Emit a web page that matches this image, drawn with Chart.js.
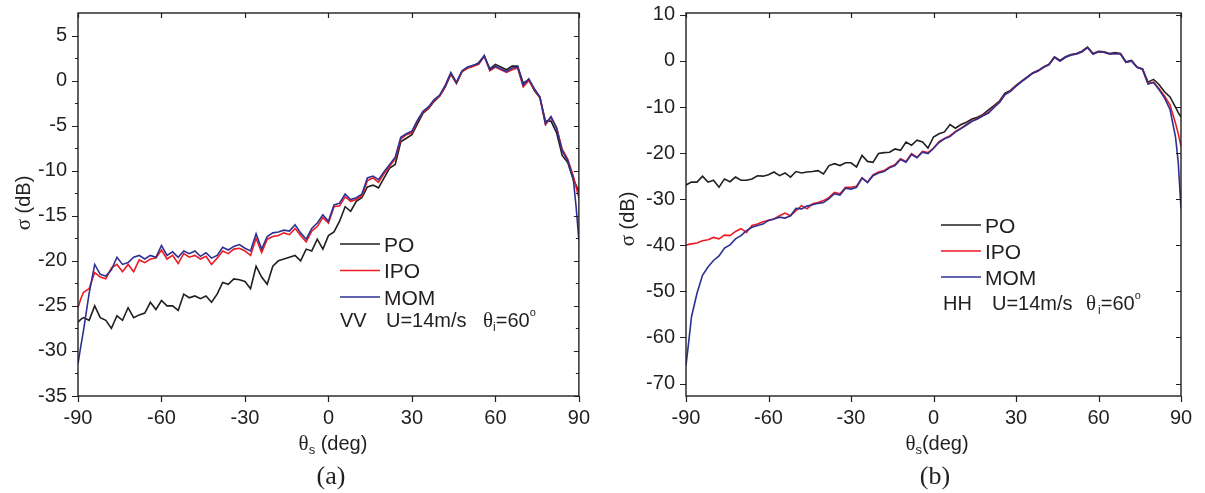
<!DOCTYPE html>
<html>
<head>
<meta charset="utf-8">
<script src="https://cdn.jsdelivr.net/npm/chart.js@4.4.1/dist/chart.umd.min.js"></script>
<style>
  body { margin: 0; background: #fff; width: 1205px; height: 493px; overflow: hidden; position: relative; }
  .panel { position: absolute; top: 0; height: 493px; }
  #boxVV { left: 0; width: 600px; }
  #boxHH { left: 600px; width: 605px; }
</style>
</head>
<body>
<div class="panel" id="boxVV"><canvas id="chartVV"></canvas></div>
<div class="panel" id="boxHH"><canvas id="chartHH"></canvas></div>
<script>
// scattering angle theta_s (deg)
const theta = [
  -90, -89, -88, -86, -84, -82, -80, -78, -76, -74,
  -72, -70, -68, -66, -64, -62, -60, -58, -56, -54,
  -52, -50, -48, -46, -44, -42, -40, -38, -36, -34,
  -32, -30, -28, -26, -24, -22, -20, -18, -16, -14,
  -12, -10, -8, -6, -4, -2, 0, 2, 4, 6,
  8, 10, 12, 14, 16, 18, 20, 22, 24, 26,
  28, 30, 32, 34, 36, 38, 40, 42, 44, 46,
  48, 50, 52, 54, 56, 58, 60, 62, 64, 66,
  68, 70, 72, 74, 76, 78, 80, 82, 84, 86,
  88, 89, 90
];

// (a) VV polarisation
const poVV = [
  -26.8, -26.5, -26.3, -26.6, -25.0, -26.3, -26.6, -27.5, -26.1, -26.6,
  -25.2, -26.3, -26.0, -25.8, -24.6, -25.4, -24.4, -25.0, -25.0, -25.5,
  -23.7, -24.1, -23.9, -24.2, -23.9, -24.6, -23.7, -22.4, -22.6, -22.0,
  -22.1, -22.3, -23.1, -20.6, -21.8, -22.6, -20.6, -20.0, -19.8, -19.6,
  -19.4, -20.0, -18.7, -18.9, -17.6, -18.7, -17.2, -16.8, -15.6, -14.0,
  -14.5, -13.4, -13.0, -11.8, -11.6, -11.9, -10.8, -9.7, -9.3, -6.8,
  -6.4, -6.0, -4.8, -3.6, -3.1, -2.3, -1.7, -0.7, 0.7, -0.3,
  1.0, 1.4, 1.6, 2.0, 2.7, 1.3, 1.8, 1.5, 1.2, 1.6,
  1.6, -0.3, 0.1, -1.1, -1.9, -4.5, -4.5, -5.8, -8.3, -9.1,
  -11.0, -11.6, -12.3
];
const ipoVV = [
  -25.2, -24.2, -23.5, -23.1, -21.3, -21.8, -22.0, -20.8, -20.4, -21.2,
  -20.4, -21.2, -19.9, -20.2, -19.8, -19.7, -18.8, -19.8, -19.4, -20.3,
  -19.2, -19.6, -19.4, -19.8, -19.5, -20.4, -19.7, -18.9, -19.2, -18.7,
  -18.6, -18.9, -19.4, -17.5, -19.1, -17.6, -17.3, -17.2, -16.9, -17.1,
  -16.4, -17.2, -17.9, -16.7, -16.2, -15.2, -15.8, -14.0, -13.9, -12.9,
  -13.4, -13.2, -12.8, -11.1, -10.8, -11.3, -10.3, -9.5, -8.7, -6.5,
  -6.0, -5.8, -4.5, -3.5, -3.0, -2.2, -1.7, -0.6, 0.8, -0.3,
  1.0, 1.4, 1.6, 1.8, 2.7, 1.1, 1.5, 1.2, 0.9, 1.2,
  1.4, -0.7, 0.0, -1.0, -1.9, -4.9, -4.1, -5.2, -7.6, -8.7,
  -10.6, -11.8, -13.0
];
const momVV = [
  -31.4, -29.5, -27.7, -23.6, -20.4, -21.5, -21.7, -21.0, -19.6, -20.4,
  -20.2, -19.6, -19.4, -19.8, -19.4, -19.6, -18.3, -19.4, -19.0, -19.6,
  -18.9, -19.2, -18.9, -19.5, -19.1, -19.7, -19.4, -18.5, -18.8, -18.4,
  -18.2, -18.6, -18.9, -17.0, -18.7, -17.3, -16.9, -16.8, -16.6, -16.7,
  -16.0, -16.9, -17.6, -16.4, -15.8, -14.9, -15.6, -13.8, -13.6, -12.6,
  -13.2, -13.0, -12.6, -10.8, -10.6, -11.0, -10.1, -9.3, -8.5, -6.3,
  -5.9, -5.6, -4.4, -3.4, -2.9, -2.1, -1.6, -0.5, 0.9, -0.2,
  1.1, 1.5, 1.7, 1.9, 2.8, 1.2, 1.6, 1.3, 1.0, 1.4,
  1.5, -0.5, 0.2, -0.9, -1.8, -4.8, -4.0, -5.3, -7.8, -8.9,
  -10.9, -14.0, -17.7
];

// (b) HH polarisation
const poHH = [
  -26.9, -26.6, -26.3, -26.3, -25.0, -26.3, -25.9, -27.4, -25.6, -26.2,
  -25.2, -25.9, -25.9, -25.6, -24.9, -25.0, -24.7, -24.1, -24.9, -24.3,
  -25.2, -24.0, -24.3, -24.1, -24.0, -23.8, -24.5, -22.7, -22.3, -22.7,
  -22.1, -22.1, -23.0, -20.5, -21.8, -22.0, -20.1, -19.9, -19.8, -19.1,
  -19.4, -17.6, -18.3, -17.2, -17.6, -18.9, -16.5, -15.8, -15.4, -13.8,
  -14.6, -13.8, -13.3, -12.6, -12.2, -11.6, -10.6, -9.7, -8.7, -7.0,
  -6.4, -5.3, -4.4, -3.5, -2.6, -2.1, -1.3, -0.7, 0.9, 0.1,
  0.9, 1.4, 1.6, 2.1, 3.0, 1.6, 2.1, 2.0, 1.6, 1.8,
  1.6, -0.2, 0.1, -1.3, -1.7, -4.6, -4.0, -5.1, -6.7, -7.8,
  -10.0, -11.2, -12.2
];
const ipoHH = [
  -40.0, -39.8, -39.7, -39.5, -39.0, -38.8, -38.3, -38.6, -37.8, -37.9,
  -37.0, -36.4, -37.2, -35.7, -35.4, -34.9, -34.6, -34.3, -33.6, -33.0,
  -33.6, -32.5, -31.4, -32.1, -31.0, -30.7, -30.3, -29.6, -28.5, -28.8,
  -27.4, -27.4, -27.2, -25.4, -26.3, -24.7, -24.1, -23.8, -23.0, -22.5,
  -21.2, -21.8, -20.1, -20.9, -19.6, -19.9, -18.9, -17.5, -16.8, -16.2,
  -15.3, -14.6, -13.8, -13.0, -12.5, -11.8, -11.2, -10.0, -8.9, -7.3,
  -6.5, -5.4, -4.5, -3.6, -2.7, -2.2, -1.4, -0.8, 0.8, 0.0,
  0.8, 1.3, 1.5, 2.0, 2.9, 1.5, 2.0, 1.9, 1.5, 1.6,
  1.5, -0.3, 0.0, -1.4, -1.8, -4.9, -4.6, -6.0, -7.6, -9.5,
  -13.5, -15.8, -18.5
];
const momHH = [
  -66.0, -60.9, -55.5, -50.4, -46.5, -44.7, -43.3, -42.3, -40.6, -39.9,
  -38.6, -37.9, -36.8, -36.1, -35.7, -35.4, -34.6, -34.3, -33.9, -34.1,
  -33.6, -32.0, -32.1, -31.5, -31.2, -30.9, -30.7, -29.9, -28.8, -29.1,
  -27.6, -27.8, -27.4, -25.4, -26.4, -24.9, -24.3, -24.0, -23.2, -22.7,
  -21.4, -22.0, -20.3, -21.0, -19.8, -20.1, -19.0, -17.7, -16.9, -16.4,
  -15.4, -14.7, -13.9, -13.1, -12.6, -11.9, -11.3, -10.1, -9.0, -7.3,
  -6.6, -5.5, -4.5, -3.6, -2.7, -2.2, -1.4, -0.8, 0.8, 0.0,
  0.8, 1.3, 1.5, 2.0, 2.9, 1.5, 2.0, 1.9, 1.5, 1.6,
  1.5, -0.3, 0.0, -1.4, -1.8, -5.0, -4.7, -6.2, -8.0, -10.5,
  -16.5, -22.0, -32.0
];

// tick values
const xTicks = [-90, -60, -30, 0, 30, 60, 90];
const yTicksVV = [-35, -30, -25, -20, -15, -10, -5, 0, 5];
const yMinorVV = [-32.5, -27.5, -22.5, -17.5, -12.5, -7.5, -2.5, 2.5];
const yTicksHH = [-70, -60, -50, -40, -30, -20, -10, 0, 10];
const yMinorHH = [];

const INK = "#231f20";
const SANS = '"Liberation Sans", Arial, sans-serif';
const SERIF = '"Liberation Serif", "Times New Roman", serif';

// draws text pieces one after another; a piece with x starts at that x
function drawRuns(ctx, runs, x, y, align) {
  let w = 0;
  runs.forEach((r) => {
    ctx.font = `${r.size}px ${r.serif ? SERIF : SANS}`;
    w += ctx.measureText(r.t).width;
  });
  let cx = align === "center" ? x - w / 2 : x;
  runs.forEach((r) => {
    if (r.x !== undefined) cx = r.x;
    ctx.font = `${r.size}px ${r.serif ? SERIF : SANS}`;
    ctx.fillText(r.t, cx, y + (r.dy || 0));
    cx += ctx.measureText(r.t).width + (r.gap || 0);
  });
}

const panelDecor = {
  id: "panelDecor",
  afterDraw(chart, args, o) {
    const { ctx, chartArea: a } = chart;
    const sx = chart.scales.x, sy = chart.scales.y;
    ctx.save();
    ctx.strokeStyle = INK;
    ctx.fillStyle = INK;
    ctx.lineWidth = 1.4;
    ctx.strokeRect(a.left, a.top, a.right - a.left, a.bottom - a.top);

    ctx.beginPath();
    xTicks.forEach((v) => {
      const px = Math.round(sx.getPixelForValue(v)) + 0.5;
      ctx.moveTo(px, a.bottom); ctx.lineTo(px, a.bottom + 6);
      ctx.moveTo(px, a.top); ctx.lineTo(px, a.top + 5);
    });
    o.yMajor.forEach((v) => {
      const py = Math.round(sy.getPixelForValue(v)) + 0.5;
      ctx.moveTo(a.left - 6, py); ctx.lineTo(a.left, py);
      ctx.moveTo(a.right - 5, py); ctx.lineTo(a.right, py);
    });
    o.yMinor.forEach((v) => {
      const py = Math.round(sy.getPixelForValue(v)) + 0.5;
      ctx.moveTo(a.left - 3, py); ctx.lineTo(a.left, py);
      ctx.moveTo(a.right - 3, py); ctx.lineTo(a.right, py);
    });
    ctx.lineWidth = 1.2;
    ctx.stroke();

    // legend
    ctx.textBaseline = "alphabetic";
    chart.data.datasets.forEach((ds, i) => {
      const ly = o.legendY + i * o.legendDy;
      ctx.beginPath();
      ctx.strokeStyle = ds.borderColor;
      ctx.lineWidth = 1.6;
      ctx.moveTo(o.legendX, ly);
      ctx.lineTo(o.legendX + 40, ly);
      ctx.stroke();
      ctx.font = `21px ${SANS}`;
      ctx.fillText(ds.label, o.legendX + 44, ly + 7.5);
    });

    // condition line
    drawRuns(ctx, o.note, 0, o.noteY, "left");

    // axis titles
    drawRuns(ctx, [
      { t: "\u03b8", size: 21, serif: true },
      { t: "s", size: 13, dy: 4 },
      { t: o.xGap + "(deg)", size: 20 }
    ], o.xTitleX, 450, "center");

    ctx.save();
    ctx.translate(o.yTitleX, o.yTitleY);
    ctx.rotate(-Math.PI / 2);
    ctx.textBaseline = "middle";
    drawRuns(ctx, [
      { t: "\u03c3", size: 21, serif: true },
      { t: " (dB)", size: 20 }
    ], 0, 0, "center");
    ctx.restore();

    ctx.font = `26px ${SERIF}`;
    ctx.textAlign = "center";
    ctx.fillText(o.tag, o.tagX, 484);
    ctx.restore();
  }
};

function makePanel(canvasId, p) {
  const series = [
    { label: "PO", data: p.po, color: "#231f20", order: 2 },
    { label: "IPO", data: p.ipo, color: "#ed1c24", order: 1 },
    { label: "MOM", data: p.mom, color: "#2e3192", order: 0 }
  ];
  const tickFont = { family: SANS, size: 20 };
  return new Chart(document.getElementById(canvasId), {
    type: "line",
    data: {
      datasets: series.map((s) => ({
        label: s.label,
        data: theta.map((t, i) => ({ x: t, y: s.data[i] })),
        borderColor: s.color,
        borderWidth: 1.6,
        pointRadius: 0,
        tension: 0,
        fill: false,
        order: s.order
      }))
    },
    options: {
      responsive: true,
      maintainAspectRatio: false,
      animation: false,
      layout: { padding: { top: 13, right: p.padRight, left: 0, bottom: 0 } },
      plugins: {
        legend: { display: false },
        tooltip: { enabled: false },
        panelDecor: p.decor
      },
      scales: {
        x: {
          type: "linear",
          min: -90,
          max: 90,
          afterBuildTicks: (s) => { s.ticks = xTicks.map((v) => ({ value: v })); },
          afterFit: (s) => { s.height = 493 - 396; },
          grid: { display: false, drawTicks: false },
          border: { display: false },
          ticks: { autoSkip: false, maxRotation: 0, padding: 10, color: INK, font: tickFont }
        },
        y: {
          type: "linear",
          min: p.yMin,
          max: p.yMax,
          afterBuildTicks: (s) => { s.ticks = p.yTicks.map((v) => ({ value: v })); },
          afterFit: (s) => {
            s.width = p.axisLeft;
            s.paddingTop = 0;
            s.paddingBottom = 0;
          },
          grid: { display: false, drawTicks: false },
          border: { display: false },
          ticks: { padding: 11, color: INK, font: tickFont }
        }
      }
    },
    plugins: [panelDecor]
  });
}

makePanel("chartVV", {
  po: poVV, ipo: ipoVV, mom: momVV,
  yMin: -35, yMax: 7.5, yTicks: yTicksVV,
  axisLeft: 78, padRight: 20,
  decor: {
    yMajor: yTicksVV, yMinor: yMinorVV,
    legendX: 340, legendY: 244, legendDy: 26.5,
    noteY: 327,
    note: [
      { t: "VV", x: 340, size: 20 },
      { t: "U=14m/s", x: 386, size: 20 },
      { t: "\u03b8", x: 483, size: 21, serif: true },
      { t: "i", size: 12, dy: 4 },
      { t: "=60", size: 20 },
      { t: "o", size: 11, dy: -11 }
    ],
    xTitleX: 333, xGap: " ", yTitleX: 24, yTitleY: 203,
    tag: "(a)", tagX: 331
  }
});

makePanel("chartHH", {
  po: poHH, ipo: ipoHH, mom: momHH,
  yMin: -72.7, yMax: 10.4, yTicks: yTicksHH,
  axisLeft: 86, padRight: 24,
  decor: {
    yMajor: yTicksHH, yMinor: yMinorHH,
    legendX: 341, legendY: 225, legendDy: 26,
    noteY: 310,
    note: [
      { t: "HH", x: 343, size: 20 },
      { t: "U=14m/s", x: 392, size: 20 },
      { t: "\u03b8", x: 486, size: 21, serif: true, gap: 2 },
      { t: "i", size: 12, dy: 4 },
      { t: "=60", size: 20 },
      { t: "o", size: 11, dy: -11 }
    ],
    xTitleX: 337, xGap: "", yTitleX: 28, yTitleY: 219,
    tag: "(b)", tagX: 335
  }
});
</script>
</body>
</html>
